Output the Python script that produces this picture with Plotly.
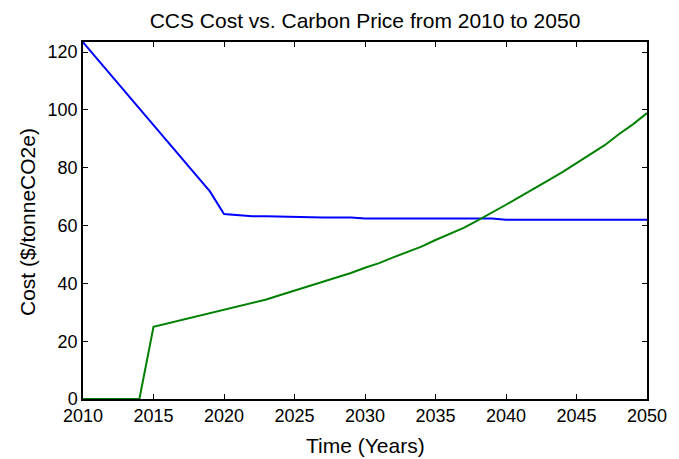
import plotly.graph_objects as go

years = list(range(2010, 2051))
ccs_cost = [123.4, 117.7, 112.0, 106.3, 100.6, 94.9, 89.2, 83.5, 77.8, 71.8,
            64.0, 63.5, 63.2, 63.2, 63.1, 62.8, 62.8, 62.8, 62.8, 62.8,
            62.4, 62.4, 62.4, 62.4, 62.4, 62.4, 62.4, 62.4, 62.4, 62.4,
            62.0, 62.0, 62.0, 62.0, 62.0, 62.0, 62.0, 62.0, 62.0, 62.0, 62.0]
carbon_price = [0, 0, 0, 0, 0, 25.0, 26.2, 27.3, 28.5, 29.7,
                30.9, 32.1, 33.2, 34.4, 36.0, 37.5, 39.0, 40.5, 42.0, 43.6,
                45.4, 47.0, 49.0, 50.9, 52.7, 55.0, 57.2, 59.2, 61.8, 64.4,
                67.2, 70.0, 72.7, 75.6, 78.5, 81.6, 84.8, 87.8, 91.6, 95.0, 98.9]
x_ticks = list(range(2010, 2051, 5))
y_ticks = list(range(0, 121, 20))

fig = go.Figure()
fig.add_trace(go.Scatter(x=years, y=ccs_cost, mode="lines",
                         line=dict(color="rgb(0,0,255)", width=2), showlegend=False))
fig.add_trace(go.Scatter(x=years, y=carbon_price, mode="lines",
                         line=dict(color="rgb(0,128,0)", width=2), showlegend=False))

font_family = "Liberation Sans, Arial, sans-serif"
axis_common = dict(showgrid=False, zeroline=False, showline=True, linecolor="black",
                   linewidth=1.5, ticks="inside", ticklen=5, tickwidth=1.2,
                   tickcolor="black", mirror="allticks", automargin=False,
                   tickfont=dict(family=font_family, size=18, color="black"))

# page body has an 8px margin, so the figure is sized/offset to compensate
OFF = 8
W, H = 679 - OFF, 459 - OFF
L, R, T, B = 83 - OFF, 32, 42 - OFF, 60
PW, PH = W - L - R, H - T - B

fig.update_layout(
    width=W, height=H,
    margin=dict(l=L, r=R, t=T, b=B),
    paper_bgcolor="white", plot_bgcolor="white",
    title=dict(text="CCS Cost vs. Carbon Price from 2010 to 2050",
               x=(L + PW / 2) / W, xanchor="center",
               y=1 - (21 - OFF) / H, yanchor="middle", yref="container",
               font=dict(family=font_family, size=21, color="black")),
    xaxis=dict(range=[2010, 2050], tickvals=x_ticks, **axis_common),
    yaxis=dict(range=[0, 123.5], tickvals=y_ticks, **axis_common),
    annotations=[
        dict(text="Time (Years)", xref="paper", yref="paper",
             x=0.5, y=-((445 - OFF) - (H - B)) / PH, xanchor="center", yanchor="middle",
             showarrow=False, font=dict(family=font_family, size=21, color="black")),
        dict(text="Cost ($/tonneCO2e)", xref="paper", yref="paper",
             x=-(L - (27 - OFF)) / PW, y=((H - B) - (222 - OFF)) / PH,
             xanchor="center", yanchor="middle", textangle=-90,
             showarrow=False, font=dict(family=font_family, size=21, color="black")),
    ],
)

fig.write_html("out.html")
